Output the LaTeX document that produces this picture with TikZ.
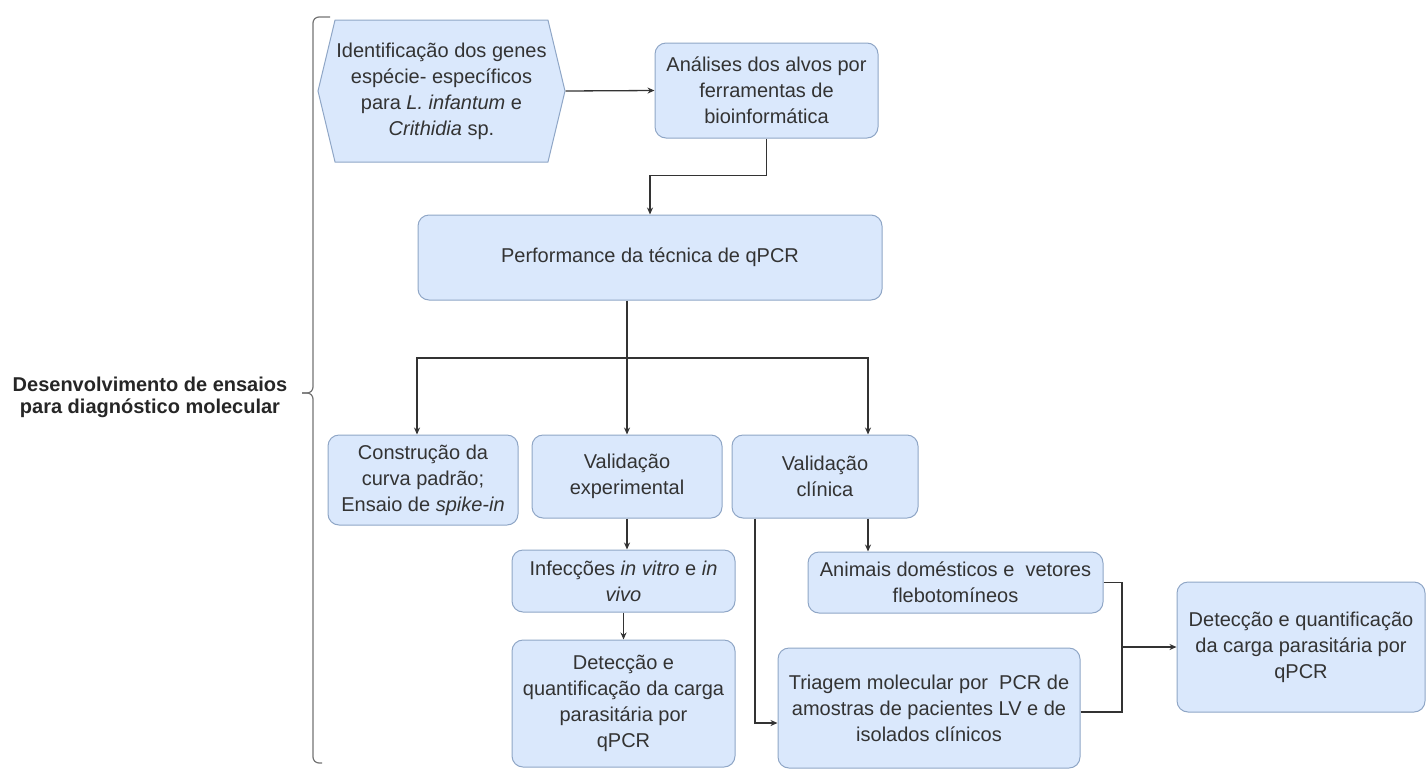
\documentclass[tikz,border=0pt]{standalone}
\usepackage{fontspec}
\setmainfont{Liberation Sans}
\usetikzlibrary{arrows.meta,shapes.symbols}
\definecolor{boxfill}{HTML}{DAE8FC}
\definecolor{boxline}{HTML}{8FA6C6}
\definecolor{ink}{HTML}{333333}
\tikzset{
  stage/.style={draw=boxline, fill=boxfill, rounded corners=11pt, line width=1pt, align=center, text=ink, inner sep=0pt},
  hexa/.style={signal, signal from=nowhere, signal to=east and west, signal pointer angle=153, draw=boxline, fill=boxfill, line width=1pt, align=center, text=ink, inner sep=0pt},
  flow/.style={draw=ink, line width=1.3pt, -{Stealth[length=7pt,width=6pt]}},
  link/.style={draw=ink, line width=1.3pt},
  brace/.style={draw=black!55, line width=1.2pt, rounded corners=6pt}
}
\begin{document}
\begin{tikzpicture}[x=1pt,y=-1pt,font=\fontsize{20}{26}\selectfont]
\useasboundingbox (0,0) rectangle (1426,769);

\node[hexa, minimum width=247, minimum height=142] (ident) at (441.5,91) {Identificação dos genes\\espécie- específicos\\para \textit{L. infantum} e\\\textit{Crithidia} sp.};
\node[stage, minimum width=223, minimum height=95] (anal) at (766.5,90.5) {Análises dos alvos por\\ferramentas de\\bioinformática};
\node[stage, minimum width=464, minimum height=85] (perf) at (650,257.5) {Performance da técnica de qPCR};

\node[stage, minimum width=190, minimum height=90] (constr) at (423,480) {Construção da\\curva padrão;\\Ensaio de \textit{spike-in}};
\node[stage, minimum width=190, minimum height=83] (valexp) at (627,476.5) {Validação\\experimental};
\node[stage, minimum width=186, minimum height=83] (valclin) at (825,476.5) {Validação\\clínica};
\node[stage, minimum width=223, minimum height=62] (infec) at (623.5,581) {Infecções \textit{in vitro} e \textit{in}\\\textit{vivo}};
\node[stage, minimum width=223, minimum height=127] (detmid) at (623.5,703.5) {Detecção e\\quantificação da carga\\parasitária por\\qPCR};
\node[stage, minimum width=295, minimum height=61] (anim) at (955.5,582.5) {Animais domésticos e\ \ vetores\\flebotomíneos};
\node[stage, minimum width=302, minimum height=120] (triag) at (929,708) {Triagem molecular por\ \ PCR de\\amostras de pacientes LV e de\\isolados clínicos};
\node[stage, minimum width=248, minimum height=130] (detright) at (1301,647) {Detecção e quantificação\\da carga parasitária por\\qPCR};

\node[align=center, font=\fontsize{20}{22}\selectfont\bfseries, text=black!85] (goal) at (150,397) {Desenvolvimento de ensaios\\para diagnóstico molecular};
\draw[brace] (330,17) -| (313,393) -- (302,393);
\draw[brace] (302,393) -| (313,763) -- (322,763);

\draw[flow] (ident.east) -- (anal.west);
\draw[flow] (anal.south) -- ++(0,37) -| (perf.north);

\coordinate (split) at (627,358);
\draw[link] (perf.south -| split) -- (split);
\draw[flow] (split) -| ([xshift=-6pt]constr.north);
\draw[flow] (split) -- (valexp.north);
\draw[flow] (split) -| ([xshift=43pt]valclin.north);

\draw[flow] (valexp.south) -- (valexp.south |- infec.north);
\draw[flow] (infec.south) -- (detmid.north);

\coordinate (clinr) at ([xshift=43pt]valclin.south);
\coordinate (clinl) at ([xshift=-70pt]valclin.south);
\draw[flow] (clinr) -- (clinr |- anim.north);
\draw[flow] (clinl) |- ([yshift=-15pt]triag.west);

\coordinate (merge) at (1122,647);
\draw[link] (anim.east) -| (merge);
\draw[link] ([yshift=-4pt]triag.east) -| (merge);
\draw[flow] (merge) -- (detright.west);
\end{tikzpicture}
\end{document}
